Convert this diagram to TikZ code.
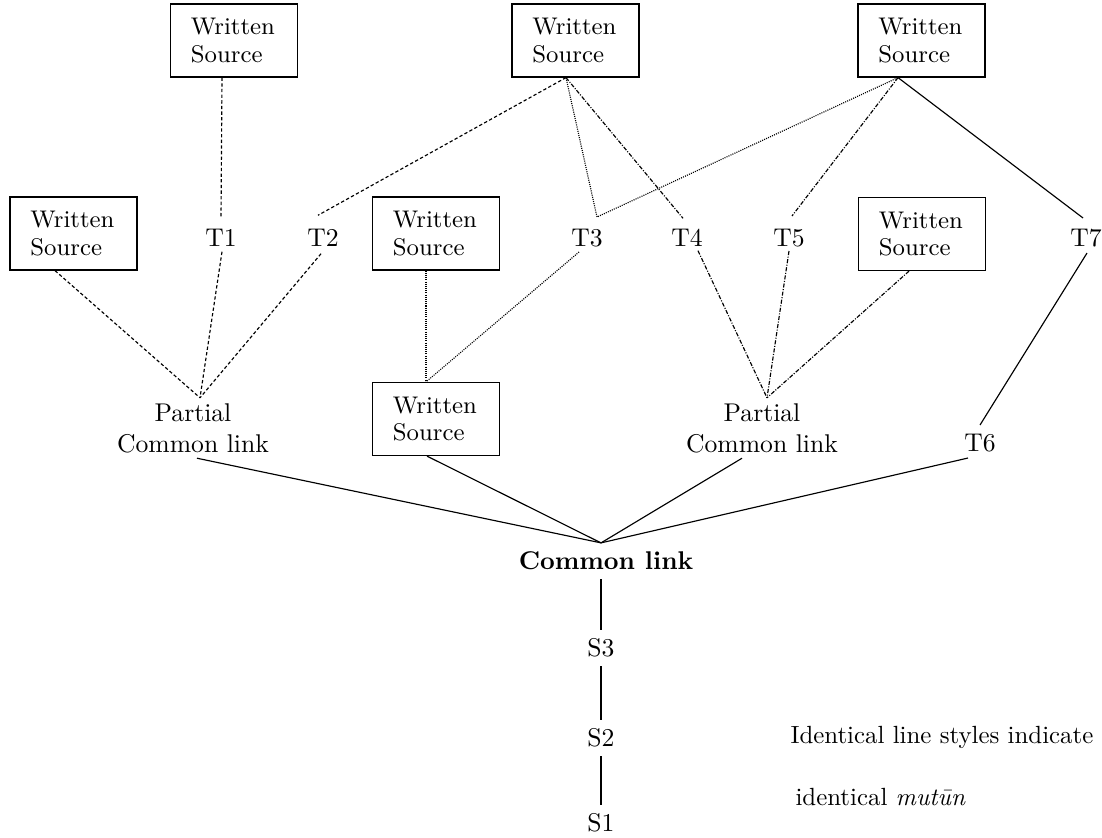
\documentclass[tikz,border=0pt]{standalone}
\usepackage{fontspec}
\usetikzlibrary{calc}
\begin{document}
\begin{tikzpicture}[x=0.39pt,y=-0.39pt,
  src/.style={draw,line width=0.45pt,font=\fontsize{9.4}{10.8}\selectfont,align=left,text width=33.6pt,inner xsep=7.95pt,inner ysep=0pt,minimum height=28.5pt},
  lbl/.style={font=\fontsize{10}{12}\selectfont,inner sep=3.33pt},
  legend/.style={font=\fontsize{9.7}{12}\selectfont,inner sep=0pt,anchor=west},
  dsh/.style={line width=0.45pt,dash pattern=on 1.3pt off 0.9pt},
  dtt/.style={line width=0.45pt,dash pattern=on 0.4pt off 0.45pt},
  dshdot/.style={line width=0.45pt,dash pattern=on 1.6pt off 0.6pt on 0.4pt off 0.6pt},
  sld/.style={line width=0.45pt}
]
\useasboundingbox (0,0) rectangle (1102,837);
% boxes
\node[src] (A) at (234,40.5) {Written\\Source};
\node[src] (B) at (575.5,40.5) {Written\\Source};
\node[src] (C) at (921.5,40.5) {Written\\Source};
\node[src] (D) at (73.5,233.5) {Written\\Source};
\node[src] (E) at (436,233.5) {Written\\Source};
\node[src] (F) at (922,234) {Written\\Source};
\node[src] (G) at (436,419) {Written\\Source};
% labels
\node[lbl] (T1) at (221,238) {T1};
\node[lbl] (T2) at (323,238) {T2};
\node[lbl] (T3) at (587,238) {T3};
\node[lbl] (T4) at (687,238) {T4};
\node[lbl] (T5) at (789,238) {T5};
\node[lbl] (T7) at (1086,238) {T7};
\node[lbl] (T6) at (980,443) {T6};
\node[lbl,align=center,inner sep=2pt] (P1) at (193,428) {Partial\\Common link};
\node[lbl,align=center,inner sep=2pt] (P2) at (762,428) {Partial\\Common link};
\node[lbl,font=\fontsize{10}{12}\selectfont\bfseries] (CL) at (606,561) {Common link};
\node[lbl] (S3) at (601,648) {S3};
\node[lbl] (S2) at (601,738) {S2};
\node[lbl] (S1) at (601,823) {S1};
\node[legend] (L1) at (790,737) {Identical line styles indicate};
\node[legend] (L2) at (795,797) {identical \textit{mutūn}};
% attachment points
\coordinate (Ab) at ($(A.south)+(-12,0)$);
\coordinate (Bb) at ($(B.south)+(-9.5,0)$);
\coordinate (Cb) at ($(C.south)+(-23.5,0)$);
\coordinate (Db) at ($(D.south)+(-18.5,0)$);
\coordinate (Eb) at ($(E.south)+(-10,0)$);
\coordinate (Fb) at ($(F.south)+(-13,0)$);
\coordinate (Gt) at ($(G.north)+(-10,0)$);
\coordinate (Gb) at ($(G.south)+(-9,0)$);
\coordinate (P1t) at ($(P1.north)+(7,0)$);
\coordinate (P1b) at ($(P1.south)+(4,0)$);
\coordinate (P2t) at ($(P2.north)+(5,0)$);
\coordinate (P2b) at ($(P2.south)+(-20,0)$);
\coordinate (T6b) at ($(T6.south)+(-12,-3)$);
\coordinate (CLt) at ($(CL.north)+(-5,0)$);
\coordinate (T1t) at ($(T1.north)+(0,-2)$);
\coordinate (T1b) at ($(T1.south)+(1,-4)$);
\coordinate (T2t) at ($(T2.north)+(-5,-5)$);
\coordinate (T2b) at ($(T2.south)+(-2,-2)$);
\coordinate (T3t) at ($(T3.north)+(10,-3)$);
\coordinate (T3b) at ($(T3.south)+(-8,-4)$);
\coordinate (T4t) at ($(T4.north)+(-4,-2)$);
\coordinate (T4b) at ($(T4.south)+(11,-5)$);
\coordinate (T5t) at ($(T5.north)+(3,-4)$);
\coordinate (T5b) at ($(T5.south)+(0,-5)$);
\coordinate (T7t) at ($(T7.north)+(-3,-2)$);
\coordinate (T7b) at ($(T7.south)+(1,-3)$);
% dashed
\draw[dsh] (Ab) -- (T1t);
\draw[dsh] (T1b) -- (P1t);
\draw[dsh] (Bb) -- (T2t);
\draw[dsh] (T2b) -- (P1t);
\draw[dsh] (Db) -- (P1t);
% dotted
\draw[dtt] (Bb) -- (T3t) -- (Cb);
\draw[dtt] (T3b) -- (Gt);
\draw[dtt] (Eb) -- (Gt);
% dash-dot
\draw[dshdot] (Bb) -- (T4t);
\draw[dshdot] (T4b) -- (P2t);
\draw[dshdot] (Cb) -- (T5t);
\draw[dshdot] (T5b) -- (P2t);
\draw[dshdot] (Fb) -- (P2t);
% solid
\draw[sld] (Cb) -- (T7t);
\draw[sld] (T7b) -- (T6.north);
\draw[sld] (P1b) -- (CLt);
\draw[sld] (Gb) -- (CLt);
\draw[sld] (P2b) -- (CLt);
\draw[sld] (T6b) -- (CLt);
\draw[sld] (S3 |- CL.south) -- (S3.north);
\draw[sld] (S3.south) -- (S2.north);
\draw[sld] (S2.south) -- (S1.north);
\end{tikzpicture}
\end{document}
